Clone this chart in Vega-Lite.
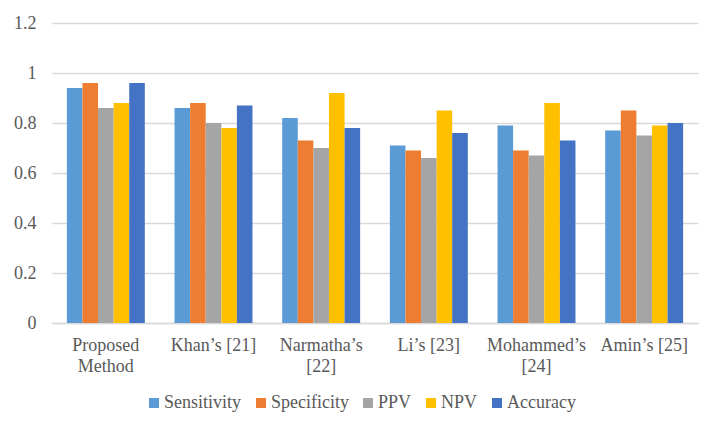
{
  "$schema": "https://vega.github.io/schema/vega-lite/v6.json",
  "width": 646,
  "height": 300,
  "autosize": {"type": "none"},
  "padding": {"left": 52, "top": 23, "right": 23, "bottom": 110},
  "background": "white",
  "data": {
    "values": [
      {"method": "Proposed|Method", "metric": "Sensitivity", "value": 0.94},
      {"method": "Proposed|Method", "metric": "Specificity", "value": 0.96},
      {"method": "Proposed|Method", "metric": "PPV", "value": 0.86},
      {"method": "Proposed|Method", "metric": "NPV", "value": 0.88},
      {"method": "Proposed|Method", "metric": "Accuracy", "value": 0.96},
      {"method": "Khan’s [21]", "metric": "Sensitivity", "value": 0.86},
      {"method": "Khan’s [21]", "metric": "Specificity", "value": 0.88},
      {"method": "Khan’s [21]", "metric": "PPV", "value": 0.80},
      {"method": "Khan’s [21]", "metric": "NPV", "value": 0.78},
      {"method": "Khan’s [21]", "metric": "Accuracy", "value": 0.87},
      {"method": "Narmatha’s|[22]", "metric": "Sensitivity", "value": 0.82},
      {"method": "Narmatha’s|[22]", "metric": "Specificity", "value": 0.73},
      {"method": "Narmatha’s|[22]", "metric": "PPV", "value": 0.70},
      {"method": "Narmatha’s|[22]", "metric": "NPV", "value": 0.92},
      {"method": "Narmatha’s|[22]", "metric": "Accuracy", "value": 0.78},
      {"method": "Li’s [23]", "metric": "Sensitivity", "value": 0.71},
      {"method": "Li’s [23]", "metric": "Specificity", "value": 0.69},
      {"method": "Li’s [23]", "metric": "PPV", "value": 0.66},
      {"method": "Li’s [23]", "metric": "NPV", "value": 0.85},
      {"method": "Li’s [23]", "metric": "Accuracy", "value": 0.76},
      {"method": "Mohammed’s|[24]", "metric": "Sensitivity", "value": 0.79},
      {"method": "Mohammed’s|[24]", "metric": "Specificity", "value": 0.69},
      {"method": "Mohammed’s|[24]", "metric": "PPV", "value": 0.67},
      {"method": "Mohammed’s|[24]", "metric": "NPV", "value": 0.88},
      {"method": "Mohammed’s|[24]", "metric": "Accuracy", "value": 0.73},
      {"method": "Amin’s [25]", "metric": "Sensitivity", "value": 0.77},
      {"method": "Amin’s [25]", "metric": "Specificity", "value": 0.85},
      {"method": "Amin’s [25]", "metric": "PPV", "value": 0.75},
      {"method": "Amin’s [25]", "metric": "NPV", "value": 0.79},
      {"method": "Amin’s [25]", "metric": "Accuracy", "value": 0.80}
    ]
  },
  "mark": {"type": "bar"},
  "encoding": {
    "x": {
      "field": "method",
      "type": "nominal",
      "sort": null,
      "title": null,
      "scale": {"paddingInner": 0.276, "paddingOuter": 0.138},
      "axis": {
        "labelExpr": "split(datum.label, '|')",
        "labelAngle": 0,
        "labelFont": "Liberation Serif",
        "labelFontSize": 18,
        "labelColor": "#595959",
        "labelLineHeight": 21,
        "labelPadding": 13,
        "labelBaseline": "top",
        "ticks": false,
        "domainColor": "#d9d9d9",
        "domainWidth": 1.3,
        "grid": false
      }
    },
    "xOffset": {
      "field": "metric",
      "type": "nominal",
      "sort": ["Sensitivity", "Specificity", "PPV", "NPV", "Accuracy"],
      "scale": {"paddingInner": 0, "paddingOuter": 0}
    },
    "y": {
      "field": "value",
      "type": "quantitative",
      "title": null,
      "scale": {"domain": [0, 1.2], "nice": false},
      "axis": {
        "values": [0, 0.2, 0.4, 0.6, 0.8, 1, 1.2],
        "format": "~g",
        "labelFont": "Liberation Serif",
        "labelFontSize": 18,
        "labelColor": "#595959",
        "labelPadding": 16,
        "ticks": false,
        "domain": false,
        "gridColor": "#d9d9d9",
        "gridWidth": 1.3
      }
    },
    "color": {
      "field": "metric",
      "type": "nominal",
      "sort": ["Sensitivity", "Specificity", "PPV", "NPV", "Accuracy"],
      "scale": {
        "domain": ["Sensitivity", "Specificity", "PPV", "NPV", "Accuracy"],
        "range": ["#5B9BD5", "#ED7D31", "#A5A5A5", "#FFC000", "#4472C4"]
      },
      "legend": {
        "title": null,
        "orient": "none",
        "direction": "horizontal",
        "legendX": 93,
        "legendY": 371,
        "symbolType": "square",
        "symbolSize": 100,
        "symbolStrokeWidth": 0,
        "labelFont": "Liberation Serif",
        "labelFontSize": 18,
        "labelColor": "#595959",
        "labelOffset": 1,
        "columnPadding": 10
      }
    }
  },
  "config": {
    "view": {"stroke": null},
    "font": "Liberation Serif"
  }
}
